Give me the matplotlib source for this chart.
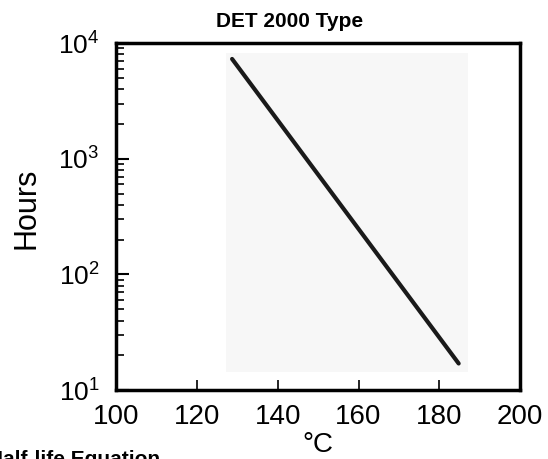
import matplotlib
matplotlib.use("Agg")
import numpy as np
from matplotlib import pyplot as plt
from matplotlib.patches import Rectangle

plt.rcParams['font.family'] = ['Liberation Sans', 'DejaVu Sans']
plt.rcParams['mathtext.fontset'] = 'custom'
plt.rcParams['mathtext.rm'] = 'Liberation Sans'
plt.rcParams['mathtext.it'] = 'Liberation Sans'

# half-life line (temperature in degC, hours)
temps = [128.7, 184.8]
hours = [7300, 17]

# light shaded panel behind the line
panel_x = [127.3, 187.0]
panel_y = [14.3, 8200]

x_ticks = [100, 120, 140, 160, 180, 200]
y_ticks = [10, 100, 1000, 10000]
y_tick_labels = ['$10^1$', '$10^2$', '$10^3$', '$10^4$']

fig = plt.figure(figsize=(5.48, 4.59), dpi=100)
ax = fig.add_axes([0.212, 0.150, 0.737, 0.756])

ax.add_patch(Rectangle((panel_x[0], panel_y[0]), panel_x[1] - panel_x[0],
                       panel_y[1] - panel_y[0], facecolor='#f7f7f7',
                       edgecolor='none', zorder=0))
ax.plot(temps, hours, color='#1a1a1a', linewidth=3, solid_capstyle='round')

ax.set_yscale('log')
ax.set_xlim(100, 200)
ax.set_ylim(10, 10000)
ax.set_xticks(x_ticks)
ax.set_xticklabels([str(t) for t in x_ticks])
ax.set_yticks(y_ticks)
ax.set_yticklabels(y_tick_labels)

for sp in ax.spines.values():
    sp.set_linewidth(2.5)
    sp.set_color('black')

ax.tick_params(axis='x', which='major', direction='in', length=7, width=1.2,
               labelsize=20, pad=10, top=False)
ax.tick_params(axis='y', which='major', direction='in', length=9, width=1.5,
               labelsize=19, pad=12, right=False)
ax.tick_params(axis='y', which='minor', direction='in', length=6, width=1.2,
               right=False)
ax.tick_params(axis='x', which='minor', bottom=False, top=False)

fig.text(0.529, 0.941, 'DET 2000 Type', ha='center', va='baseline', fontsize=15,
         fontweight='bold')
fig.text(0.049, 0.547, 'Hours', rotation=90, ha='center', va='center', fontsize=22)
fig.text(0.58, 0.03, '°C', ha='center', va='center', fontsize=20)
fig.text(-0.022, -0.013, 'Half-life Equation', ha='left', va='baseline', fontsize=15,
         fontweight='bold')

fig.savefig('out.png', dpi=100)
